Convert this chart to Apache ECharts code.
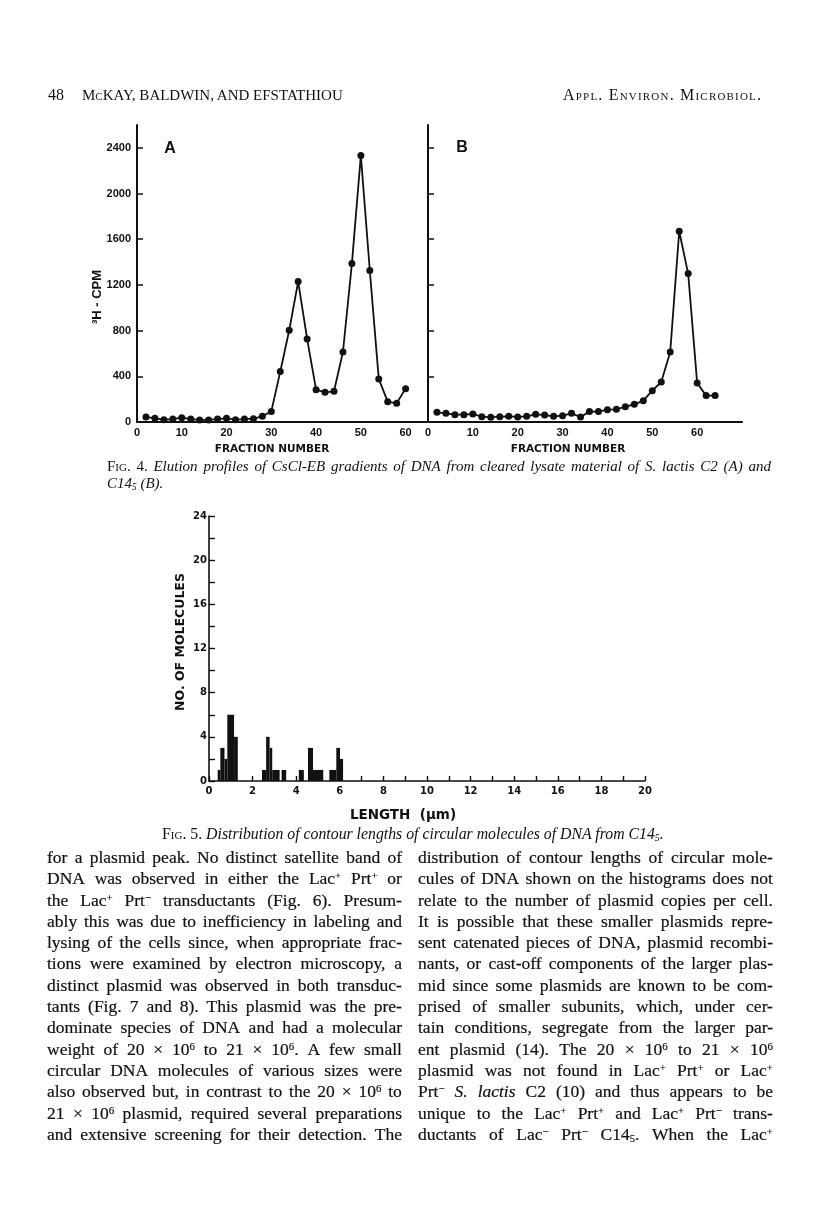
<!DOCTYPE html>
<html>
<head>
<meta charset="utf-8">
<script src="https://cdn.jsdelivr.net/npm/echarts@6/dist/echarts.min.js"></script>
<style>
  html, body { margin: 0; padding: 0; background: #fff; }
  #page { position: relative; width: 816px; height: 1206px; overflow: hidden; }
  #chart { position: absolute; left: 0; top: 0; width: 816px; height: 1206px; }
  .txt { position: absolute; font-family: "Liberation Serif", "DejaVu Serif", serif; color: #111; pointer-events: none; }
  .hdr { font-size: 15px; top: 87px; white-space: nowrap; }
  .sc { font-variant: small-caps; }
  .cap { font-style: italic; white-space: nowrap; }
  .cap .up { font-style: normal; }
  .col { font-size: 17.5px; line-height: 21.3px; width: 355px; top: 847px; -webkit-text-stroke: 0.2px #111; }
  .line { display: flex; justify-content: space-between; white-space: nowrap; height: 21.3px; }
  sup { font-size: 0.62em; line-height: 0; vertical-align: 0.5em; }
  sub { font-size: 0.62em; line-height: 0; vertical-align: -0.2em; }
</style>
</head>
<body>
<div id="page">
  <div id="chart"></div>

  <div class="txt hdr" style="left:48px; font-size:16px; top:86px;">48</div>
  <div class="txt hdr" style="left:82px;">M<span class="sc">c</span>KAY, BALDWIN, AND EFSTATHIOU</div>
  <div class="txt hdr sc" style="left:563px; font-size:16px; top:86px; letter-spacing:1.2px;">Appl. Environ. Microbiol.</div>

  <div class="txt cap" style="left:107px; top:458px; width:664px; font-size:15px; line-height:17px;">
    <div id="cap4" class="line" style="height:17px;"></div>
    <div>C14<sub>5</sub> (B).</div>
  </div>

  <div class="txt cap" style="left:162px; top:825px; font-size:15.8px;"><span class="up sc">Fig.</span> <span class="up">5.</span> Distribution of contour lengths of circular molecules of DNA from C14<sub>5</sub>.</div>

  <div id="colL" class="txt col" style="left:47px;"></div>
  <div id="colR" class="txt col" style="left:418px;"></div>
</div>

<script>
// Fig. 4A - C2 cleared lysate
const fractionsA = [2, 4, 6, 8, 10, 12, 14, 16, 18, 20, 22, 24, 26, 28, 30,
  32, 34, 36, 38, 40, 42, 44, 46, 48, 50, 52, 54, 56, 58, 60];
const cpmA = [44, 32, 20, 26, 38, 26, 18, 18, 26, 32, 20, 26, 29, 50, 93,
  441, 803, 1229, 727, 283, 260, 269, 613, 1387, 2333, 1326, 377, 178, 164, 292];

// Fig. 4B - C14-5
const fractionsB = [2, 4, 6, 8, 10, 12, 14, 16, 18, 20, 22, 24, 26, 28, 30, 32,
  34, 36, 38, 40, 42, 44, 46, 48, 50, 52, 54, 56, 58, 60, 62, 64];
const cpmB = [85, 76, 64, 64, 70, 47, 41, 47, 50, 44, 50, 67, 61, 50, 55, 76,
  44, 91, 91, 108, 111, 134, 155, 187, 274, 350, 613, 1670, 1299, 342, 231, 231];

// Fig. 5 - contour length histogram (um)
const binStart = [0.40, 0.52, 0.71, 0.84, 1.15, 2.43, 2.62, 2.78, 2.90, 3.33, 4.12, 4.54, 4.77, 5.52, 5.84, 6.01];
const binEnd   = [0.52, 0.71, 0.84, 1.15, 1.32, 2.62, 2.78, 2.90, 3.24, 3.54, 4.35, 4.77, 5.24, 5.84, 6.01, 6.15];
const counts   = [1, 3, 2, 6, 4, 1, 4, 3, 1, 1, 1, 3, 1, 1, 3, 2];

// tick labels
const cpmTicks = [0, 400, 800, 1200, 1600, 2000, 2400];
const fractionTicks = [0, 10, 20, 30, 40, 50, 60];

// page text, one entry per printed line
const cap4Line = '<span class="up sc">Fig.</span> <span class="up">4.</span> Elution profiles of CsCl-EB gradients of DNA from cleared lysate material of S. lactis C2 (A) and';
const leftLines = [
  "for a plasmid peak. No distinct satellite band of",
  "DNA was observed in either the Lac<sup>+</sup> Prt<sup>+</sup> or",
  "the Lac<sup>+</sup> Prt<sup>−</sup> transductants (Fig. 6). Presum-",
  "ably this was due to inefficiency in labeling and",
  "lysing of the cells since, when appropriate frac-",
  "tions were examined by electron microscopy, a",
  "distinct plasmid was observed in both transduc-",
  "tants (Fig. 7 and 8). This plasmid was the pre-",
  "dominate species of DNA and had a molecular",
  "weight of 20 × 10<sup>6</sup> to 21 × 10<sup>6</sup>. A few small",
  "circular DNA molecules of various sizes were",
  "also observed but, in contrast to the 20 × 10<sup>6</sup> to",
  "21 × 10<sup>6</sup> plasmid, required several preparations",
  "and extensive screening for their detection. The"
];
const rightLines = [
  "distribution of contour lengths of circular mole-",
  "cules of DNA shown on the histograms does not",
  "relate to the number of plasmid copies per cell.",
  "It is possible that these smaller plasmids repre-",
  "sent catenated pieces of DNA, plasmid recombi-",
  "nants, or cast-off components of the larger plas-",
  "mid since some plasmids are known to be com-",
  "prised of smaller subunits, which, under cer-",
  "tain conditions, segregate from the larger par-",
  "ent plasmid (14). The 20 × 10<sup>6</sup> to 21 × 10<sup>6</sup>",
  "plasmid was not found in Lac<sup>+</sup> Prt<sup>+</sup> or Lac<sup>+</sup>",
  "Prt<sup>−</sup> <i>S.</i> <i>lactis</i> C2 (10) and thus appears to be",
  "unique to the Lac<sup>+</sup> Prt<sup>+</sup> and Lac<sup>+</sup> Prt<sup>−</sup> trans-",
  "ductants of Lac<sup>−</sup> Prt<sup>−</sup> C14<sub>5</sub>. When the Lac<sup>+</sup>"
];

function fillJustified(el, html) {
  // split on spaces that are outside tags, one span per word
  const words = [];
  let cur = "", depth = 0;
  for (const ch of html) {
    if (ch === "<") depth++;
    if (ch === ">") depth--;
    if (ch === " " && depth === 0) { if (cur) words.push(cur); cur = ""; }
    else cur += ch;
  }
  if (cur) words.push(cur);
  el.innerHTML = words.map((w) => "<span>" + w + "</span>").join("");
}
function fillColumn(id, lines) {
  const col = document.getElementById(id);
  lines.forEach((l) => {
    const d = document.createElement("div");
    d.className = "line";
    fillJustified(d, l);
    col.appendChild(d);
  });
}
fillJustified(document.getElementById("cap4"), cap4Line);
fillColumn("colL", leftLines);
fillColumn("colR", rightLines);

const ink = "#111";
const plain = (v) => String(v);
const fig4Font = { fontFamily: "Liberation Sans", fontWeight: "bold", fontSize: 11, color: ink };
const fig5Font = { fontFamily: "DejaVu Sans", fontWeight: "bold", fontSize: 10, color: ink };

const chart = echarts.init(document.getElementById("chart"), null, { renderer: "canvas" });

const axisLine = (w) => ({ show: true, onZero: false, lineStyle: { color: ink, width: w } });

const option = {
  animation: false,
  backgroundColor: "transparent",
  grid: [
    { left: 137, top: 125, width: 291, height: 297, outerBoundsMode: "none" },
    { left: 428, top: 125, width: 314, height: 297, outerBoundsMode: "none" },
    { left: 209, top: 516, width: 436, height: 265, outerBoundsMode: "none" }
  ],
  xAxis: [
    {
      gridIndex: 0, type: "value", min: 0, max: 65, interval: 10,
      axisLine: axisLine(2), axisTick: { show: false }, splitLine: { show: false },
      axisLabel: Object.assign({ margin: 5, customValues: fractionTicks, formatter: plain }, fig4Font)
    },
    {
      gridIndex: 1, type: "value", min: 0, max: 70, interval: 10,
      axisLine: axisLine(2), axisTick: { show: false }, splitLine: { show: false },
      axisLabel: Object.assign({ margin: 5, customValues: fractionTicks, formatter: plain }, fig4Font)
    },
    {
      gridIndex: 2, type: "value", min: 0, max: 20, interval: 1,
      axisLine: axisLine(1.6), splitLine: { show: false },
      axisTick: { show: true, inside: true, length: 5, lineStyle: { color: ink, width: 1.4 } },
      axisLabel: Object.assign({ margin: 5, formatter: (v) => (v % 2 === 0 ? String(v) : "") }, fig5Font)
    }
  ],
  yAxis: [
    {
      gridIndex: 0, type: "value", min: 0, max: 2600, interval: 400,
      axisLine: axisLine(2), splitLine: { show: false },
      axisTick: { show: true, inside: true, length: 6, customValues: cpmTicks, lineStyle: { color: ink, width: 1.5 } },
      axisLabel: Object.assign({ margin: 6, customValues: cpmTicks, formatter: plain }, fig4Font)
    },
    {
      gridIndex: 1, type: "value", min: 0, max: 2600, interval: 400,
      axisLine: axisLine(2), splitLine: { show: false },
      axisTick: { show: true, inside: true, length: 6, customValues: cpmTicks, lineStyle: { color: ink, width: 1.5 } },
      axisLabel: { show: false }
    },
    {
      gridIndex: 2, type: "value", min: 0, max: 24, interval: 2,
      axisLine: axisLine(1.6), splitLine: { show: false },
      axisTick: { show: true, inside: true, length: 6, lineStyle: { color: ink, width: 1.4 } },
      axisLabel: Object.assign({ margin: 2, formatter: (v) => (v % 4 === 0 ? String(v) : "") }, fig5Font)
    }
  ],
  series: [
    {
      type: "line", xAxisIndex: 0, yAxisIndex: 0,
      data: fractionsA.map((f, i) => [f, cpmA[i]]),
      symbol: "circle", symbolSize: 7,
      itemStyle: { color: ink }, lineStyle: { color: ink, width: 1.8 }
    },
    {
      type: "line", xAxisIndex: 1, yAxisIndex: 1,
      data: fractionsB.map((f, i) => [f, cpmB[i]]),
      symbol: "circle", symbolSize: 7,
      itemStyle: { color: ink }, lineStyle: { color: ink, width: 1.8 }
    },
    {
      type: "custom", xAxisIndex: 2, yAxisIndex: 2,
      data: binStart.map((s, i) => [s, binEnd[i], counts[i]]),
      encode: { x: [0, 1], y: 2 },
      renderItem: (params, api) => {
        const topLeft = api.coord([api.value(0), api.value(2)]);
        const bottomRight = api.coord([api.value(1), 0]);
        return {
          type: "rect",
          shape: { x: topLeft[0], y: topLeft[1], width: bottomRight[0] - topLeft[0], height: bottomRight[1] - topLeft[1] },
          style: { fill: ink }
        };
      }
    }
  ],
  graphic: [
    { type: "text", x: 170, y: 149, style: { text: "A", font: "bold 16px 'Liberation Sans'", fill: ink, align: "center", verticalAlign: "middle" } },
    { type: "text", x: 462, y: 148, style: { text: "B", font: "bold 16px 'Liberation Sans'", fill: ink, align: "center", verticalAlign: "middle" } },
    { type: "text", x: 97, y: 297, rotation: Math.PI / 2, style: { text: "³H - CPM", font: "bold 13px 'Liberation Sans'", fill: ink, align: "center", verticalAlign: "middle" } },
    { type: "text", x: 272, y: 449, style: { text: "FRACTION NUMBER", font: "bold 10.5px 'DejaVu Sans'", fill: ink, align: "center", verticalAlign: "middle" } },
    { type: "text", x: 568, y: 449, style: { text: "FRACTION NUMBER", font: "bold 10.5px 'DejaVu Sans'", fill: ink, align: "center", verticalAlign: "middle" } },
    { type: "text", x: 181, y: 642, rotation: Math.PI / 2, style: { text: "NO. OF MOLECULES", font: "bold 12.5px 'DejaVu Sans'", fill: ink, align: "center", verticalAlign: "middle" } },
    { type: "text", x: 403, y: 815, style: { text: "LENGTH  (μm)", font: "bold 13.5px 'DejaVu Sans'", fill: ink, align: "center", verticalAlign: "middle" } }
  ]
};

chart.setOption(option);
</script>
</body>
</html>
